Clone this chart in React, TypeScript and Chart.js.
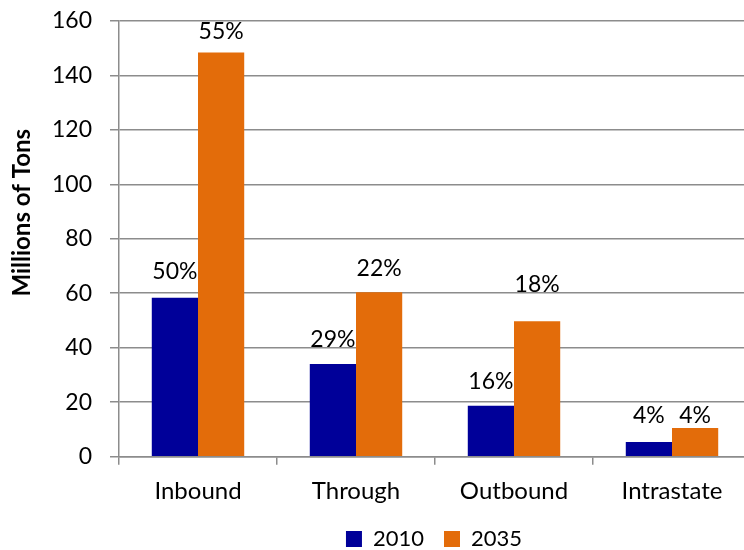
import React, { useEffect, useRef } from "react";
import { Chart, registerables } from "chart.js";

Chart.register(...registerables);

const categories = ["Inbound", "Through", "Outbound", "Intrastate"];
const seriesNames = ["2010", "2035"];
const tons2010 = [58.3, 34.0, 18.7, 5.4];
const tons2035 = [148.4, 60.4, 49.7, 10.5];
const share2010 = ["50%", "29%", "16%", "4%"];
const share2035 = ["55%", "22%", "18%", "4%"];
const yMin = 0;
const yMax = 160;
const yStep = 20;
const yTitle = "Millions of Tons";

const FONT = "Lato";
const GRID = "#8c8c8c";

const barLabels = {
  id: "barLabels",
  afterDatasetsDraw(chart: any, _args: any, opts: any) {
    const ctx = chart.ctx;
    ctx.save();
    ctx.font = `${opts.size}px ${FONT}`;
    ctx.fillStyle = "#000";
    ctx.textAlign = "center";
    ctx.textBaseline = "alphabetic";
    chart.data.datasets.forEach((_ds: any, di: number) => {
      const meta = chart.getDatasetMeta(di);
      meta.data.forEach((bar: any, i: number) => {
        ctx.fillText(opts.texts[di][i], bar.x, bar.y - opts.gaps[di][i]);
      });
    });
    ctx.restore();
  },
};

const yAxisTitle = {
  id: "yAxisTitle",
  afterDraw(chart: any, _args: any, opts: any) {
    const { ctx, chartArea } = chart;
    ctx.save();
    ctx.font = `bold ${opts.size}px ${FONT}`;
    ctx.fillStyle = "#000";
    ctx.textAlign = "center";
    ctx.textBaseline = "middle";
    ctx.translate(chartArea.left - opts.dx, (chartArea.top + chartArea.bottom) / 2 - opts.dy);
    ctx.rotate(-Math.PI / 2);
    ctx.fillText(opts.text, 0, 0);
    ctx.restore();
  },
};

export default function App() {
  const ref = useRef<HTMLCanvasElement | null>(null);

  useEffect(() => {
    if (!ref.current) return;
    const chart = new Chart(ref.current, {
      type: "bar",
      data: {
        labels: categories,
        datasets: [
          {
            label: seriesNames[0],
            data: tons2010,
            backgroundColor: "#000099",
            borderWidth: 0,
            barPercentage: 1,
            categoryPercentage: 0.585,
          },
          {
            label: seriesNames[1],
            data: tons2035,
            backgroundColor: "#E36C0A",
            borderWidth: 0,
            barPercentage: 1,
            categoryPercentage: 0.585,
          },
        ],
      },
      options: {
        responsive: false,
        animation: false,
        devicePixelRatio: 1,
        layout: { padding: { left: 0, right: 0, top: 0, bottom: 0 } },
        scales: {
          x: {
            grid: {
              display: true,
              drawOnChartArea: false,
              drawTicks: true,
              tickLength: 8,
              color: GRID,
              lineWidth: 1.5,
              offset: true,
            },
            border: { color: GRID, width: 1.5 },
            ticks: { padding: 12, color: "#000", font: { family: FONT, size: 24 } },
            afterFit: (s: any) => {
              s.height = 51.3;
            },
          },
          y: {
            min: yMin,
            max: yMax,
            ticks: { stepSize: yStep, padding: 18, color: "#000", font: { family: FONT, size: 23 } },
            grid: { color: GRID, lineWidth: 1.5, tickLength: 9, drawTicks: true },
            border: { color: GRID, width: 1.5 },
            afterFit: (s: any) => {
              s.width = 119;
            },
          },
          spacer: {
            type: "linear",
            position: "right",
            display: true,
            grid: { display: false, drawOnChartArea: false, drawTicks: false },
            border: { display: false },
            ticks: { display: false },
            afterFit: (s: any) => {
              s.width = 117;
            },
          },
        } as any,
        plugins: {
          legend: {
            position: "bottom",
            labels: {
              boxWidth: 16,
              boxHeight: 16,
              padding: 20,
              color: "#000",
              font: { family: FONT, size: 22 },
            },
          },
          tooltip: { enabled: false },
          barLabels: {
            size: 23,
            texts: [share2010, share2035],
            gaps: [
              [19, 17, 17, 19],
              [13, 16, 29, 5],
            ],
          },
          yAxisTitle: { text: yTitle, size: 24, dx: 97, dy: 26 },
        } as any,
      },
      plugins: [barLabels, yAxisTitle],
    });
    return () => chart.destroy();
  }, []);

  return (
    <div
      style={{
        position: "fixed",
        left: 0,
        top: 0,
        width: 744,
        height: 550,
        overflow: "hidden",
        background: "#fff",
      }}
    >
      <canvas ref={ref} width={868} height={571} style={{ display: "block", marginTop: -11 }} />
    </div>
  );
}
